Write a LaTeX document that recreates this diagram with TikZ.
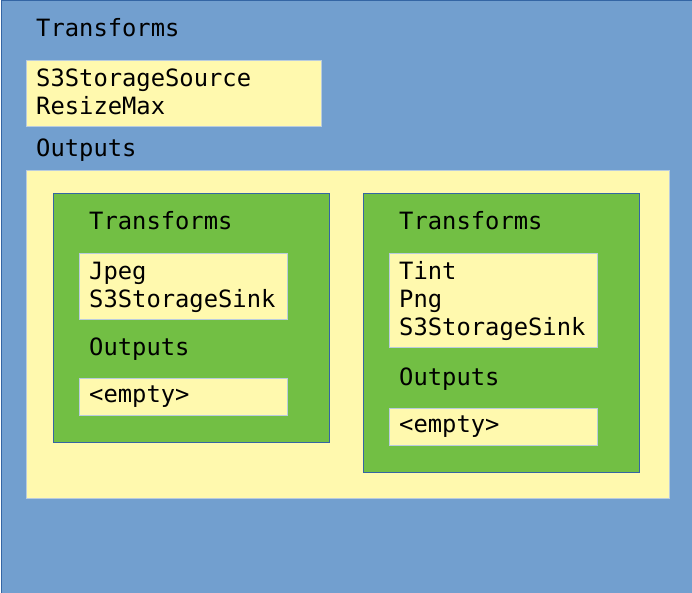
\documentclass[tikz,border=0pt]{standalone}
\usepackage{fontspec}
\newfontfamily\monofont{DejaVu Sans Mono}
\usetikzlibrary{positioning}
\definecolor{pgblue}{RGB}{114,159,207}
\definecolor{pgblueline}{RGB}{52,101,164}
\definecolor{pgyellow}{RGB}{255,249,174}
\definecolor{pgyellowline}{RGB}{185,204,222}
\definecolor{pggreen}{RGB}{114,191,68}
\tikzstyle{stage} = [rectangle, anchor=north west, inner sep=0pt, draw=pgblueline, fill=pgblue, line width=1pt]
\tikzstyle{list} = [rectangle, anchor=north west, inner sep=0pt, draw=pgyellowline, fill=pgyellow, line width=0.8pt]
\tikzstyle{branch} = [rectangle, anchor=north west, inner sep=0pt, draw=pgblueline, fill=pggreen, line width=0.6pt]
\tikzstyle{label} = [anchor=base west, inner sep=0pt, align=left, font=\monofont\fontsize{23.8}{28}\selectfont]

\begin{document}
\begin{tikzpicture}[x=1pt, y=-1pt]
\useasboundingbox (0,0) rectangle (692,593);
% outer stage
\node[stage, minimum width=691, minimum height=592] (root) at (0.5,0.5) {};
\node[label] (rootT) at (36,37) {Transforms};
\node[list, minimum width=295, minimum height=66] (rootTL) at (26,60) {};
\node[label] (rootTX) at (36,115) {S3StorageSource\\ResizeMax};
\node[label] (rootO) at (36,157) {Outputs};
\node[list, minimum width=643, minimum height=328] (rootOL) at (26,170) {};

% left branch
\node[branch, minimum width=276, minimum height=249] (left) at (53,193) {};
\node[label] (leftT) at (89,230) {Transforms};
\node[list, minimum width=208, minimum height=66] (leftTL) at (79,253) {};
\node[label] (leftTX) at (89,307) {Jpeg\\S3StorageSink};
\node[label] (leftO) at (89,355) {Outputs};
\node[list, minimum width=208, minimum height=37] (leftOL) at (79,378) {};
\node[label] (leftOX) at (89,402) {<empty>};

% right branch
\node[branch, minimum width=276, minimum height=279] (right) at (363,193) {};
\node[label] (rightT) at (399,230) {Transforms};
\node[list, minimum width=208, minimum height=94] (rightTL) at (389,253) {};
\node[label] (rightTX) at (399,335) {Tint\\Png\\S3StorageSink};
\node[label] (rightO) at (399,385) {Outputs};
\node[list, minimum width=208, minimum height=37] (rightOL) at (389,408) {};
\node[label] (rightOX) at (399,432) {<empty>};
\end{tikzpicture}
\end{document}
